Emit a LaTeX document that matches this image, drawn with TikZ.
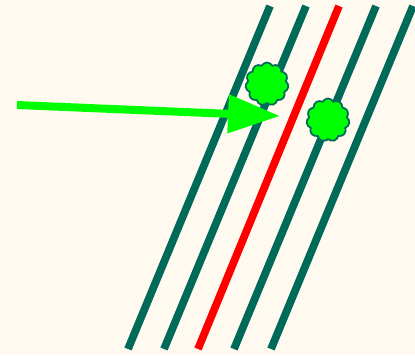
\documentclass[tikz,border=0pt]{standalone}
\usepackage{xcolor}
\usepackage{tikz}
\usetikzlibrary{arrows.meta,shapes.symbols}

\definecolor{paper}{HTML}{FFFAF0}
\definecolor{rail}{HTML}{006A5A}
\definecolor{leaf}{HTML}{00FF00}

\begin{document}
\begin{tikzpicture}[
  x=0.02cm, y=-0.02cm,
  track/.style={draw=rail, line width=0.155cm},
  hot track/.style={track, draw=red},
  tree/.style={cloud, cloud puffs=11, cloud puff arc=125, aspect=1,
    draw=rail, fill=leaf, line width=0.035cm, inner sep=0pt,
    minimum width=0.86cm, minimum height=0.86cm},
  push/.style={draw=leaf, line width=0.16cm,
    -{Triangle[length=1.04cm, width=0.74cm]}}
]
\useasboundingbox (0,0) rectangle (415,355);
\fill[paper] (0,0) rectangle (415,355);

% track ends
\coordinate (a1) at (270,6);   \coordinate (b1) at (128,349);
\coordinate (a2) at (306,6);   \coordinate (b2) at (164,349);
\coordinate (a3) at (339,6);   \coordinate (b3) at (198,349);
\coordinate (a4) at (376,6);   \coordinate (b4) at (234,349);
\coordinate (a5) at (413,6);   \coordinate (b5) at (271,349);

\draw[track] (a1) -- (b1);
\draw[track] (a2) -- (b2);
\draw[hot track] (a3) -- (b3);
\draw[track] (a4) -- (b4);
\draw[track] (a5) -- (b5);

% trees
\draw[rail, line width=0.06cm] (266,92) -- (265,106);
\node[tree] (tree1) at (267,84) {};
\draw[rail, line width=0.06cm] (327,128) -- (326,141);
\node[tree] (tree2) at (328,120) {};

% arrow
\coordinate (from) at (17,105);
\coordinate (to) at (280,116);
\draw[push] (from) -- (to);
\end{tikzpicture}
\end{document}
